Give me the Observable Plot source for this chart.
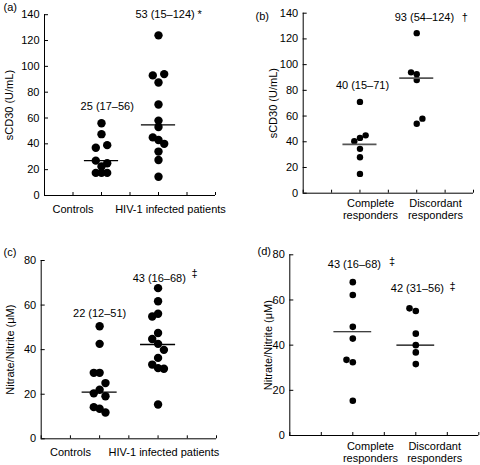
<!DOCTYPE html>
<html><head><meta charset="utf-8">
<script src="https://cdn.jsdelivr.net/npm/d3@7"></script>
<script src="https://cdn.jsdelivr.net/npm/@observablehq/plot@0.6"></script>
<style>
body{margin:0;background:#fff}
#root{position:relative;width:480px;height:465px;background:#fff;overflow:hidden}
#root svg{position:absolute}
</style>
</head><body><div id="root"></div>
<script>
// ---------- data ----------
// Panel (a): sCD30, controls vs HIV-1 infected
const groupsA = ["Controls", "HIV-1 infected patients"];
const aControls = [56, 47.5, 37, 39, 27, 25, 22.5, 17.5, 17.5, 17.5];
const aControlsCol = [0, 0, -1, 1, -1, 1, 0, -1, 0, 1];
const aHIV = [124, 93, 94, 87.5, 70.5, 58, 53, 45, 43, 40, 34, 27.5, 14.5];
const aHIVCol = [0, -1, 1, 0, 0, 0, 0, -1, 0, 1, 0, 0, 0];
const aMedians = [27, 54.7];
const aNotes = ["25 (17–56)", "53 (15–124)", "*"];

// Panel (b): sCD30, complete vs discordant responders
const groupsB = ["Complete\nresponders", "Discordant\nresponders"];
const bComplete = [71, 40.5, 43, 45, 34.5, 28, 15];
const bCompleteCol = [0, -1, 0, 1, 0, 0, 0];
const bDiscordant = [124.5, 94, 92.5, 88, 58, 54];
const bDiscordantCol = [0, -1, 0, 0, 1, 0];
const bMedians = [38, 89.5];
const bNotes = ["40 (15–71)", "93 (54–124)", "†"];

// Panel (c): Nitrate/Nitrite, controls vs HIV-1 infected
const groupsC = ["Controls", "HIV-1 infected patients"];
const cControls = [50.5, 42.6, 29.6, 29.6, 25, 20.4, 22, 19.1, 14.2, 13.5, 11.8];
const cControlsCol = [0, 0, -1, 0, 1, -1, 0, 1, -1, 0, 1];
const cHIV = [67.6, 61.7, 54.9, 56.1, 47.5, 44.8, 42.6, 39.9, 36.3, 33.3, 31.7, 31.4, 15.4];
const cHIVCol = [0, 0, -1, 0, 0, -1, 0, 1, 0, -1, 0, 1, 0];
const cMedians = [20.9, 42.3];
const cNotes = ["22 (12–51)", "43 (16–68)", "‡"];

// Panel (d): Nitrate/Nitrite, complete vs discordant responders
const groupsD = ["Complete\nresponders", "Discordant\nresponders"];
const dComplete = [67.9, 62.2, 48.1, 42.9, 33.5, 32.4, 15.4];
const dCompleteCol = [0, 0, 0, 0, -1, 0, 0];
const dDiscordant = [56.3, 55.1, 45.1, 40, 36.8, 31.6];
const dDiscordantCol = [-1, 0, 0, 0, 0, 0];
const dMedians = [45.9, 40];
const dNotes = ["43 (16–68)", "‡", "42 (31–56)", "‡"];

const ticksA = [0, 20, 40, 60, 80, 100, 120, 140];
const ticksC = [0, 20, 40, 60, 80];
const FONT = "'Liberation Sans', Arial, Helvetica, sans-serif";

function panel(cfg) {
  const rows = cfg.groups.flatMap((g, i) =>
    cfg.values[i].map((v, j) => ({group: g, pos: cfg.groupPos[i], col: cfg.cols[i][j], value: v})));
  const med = cfg.groups.map((g, i) => ({pos: cfg.groupPos[i], value: cfg.medians[i]}));
  const svg = Plot.plot({
    width: cfg.width, height: cfg.height,
    marginLeft: cfg.ml, marginRight: cfg.mr, marginTop: cfg.mt, marginBottom: cfg.mb,
    style: {fontFamily: FONT, fontSize: "11px", overflow: "visible", background: "transparent", color: "#000"},
    x: {domain: [0, 6]},
    y: {domain: cfg.yDomain},
    marks: [
      Plot.axisY({ticks: cfg.yTicks, tickSize: -4, tickPadding: 9, label: null, fontSize: 11}),
      Plot.axisX({ticks: [0, 1, 2, 3, 4, 5, 6], tickSize: -3, tickFormat: () => "", label: null}),
      Plot.ruleX([0], {stroke: "#000", strokeWidth: 1}),
      Plot.ruleY([0], {stroke: "#000", strokeWidth: 1}),
      Plot.text([cfg.yLabel], {frameAnchor: "left", textAnchor: "middle", lineAnchor: "middle", rotate: -90,
        dx: cfg.yLabelDx, fontSize: 11, fill: "#000"}),
      Plot.text([cfg.letter], {frameAnchor: "top-left", textAnchor: "start", lineAnchor: "middle",
        dx: cfg.letterDx, dy: cfg.letterDy, fontSize: 11, fill: "#000"}),
      Plot.text(cfg.groups, {x: cfg.labelX, text: d => d, frameAnchor: "bottom", dy: cfg.labelDy,
        textAnchor: "middle", lineAnchor: "middle", lineHeight: cfg.lineHeight, fontSize: 11, fill: "#000"}),
      Plot.dot(rows, {x: d => d.pos + d.col * 0.2, y: "value", r: cfg.r, fill: "#000", stroke: "none"}),
      Plot.ruleY(med, {x1: d => d.pos - 0.6, x2: d => d.pos + 0.6, y: "value", stroke: cfg.medStroke, strokeWidth: cfg.medWidth}),
      Plot.text(cfg.notes, {x: cfg.noteX, y: cfg.noteY, text: d => d, lineAnchor: "middle", fontSize: 11, fill: "#000"})
    ]
  });
  svg.style.left = cfg.left + "px";
  svg.style.top = cfg.top + "px";
  document.getElementById("root").appendChild(svg);
}

panel({
  left: 0, top: 0, width: 240, height: 235, ml: 44, mr: 25, mt: 14.2, mb: 40,
  yDomain: [0, 140], yTicks: ticksA, yLabel: "sCD30 (U/mL)", yLabelDx: -34.7,
  letter: "(a)", letterDx: -41, letterDy: -7,
  groups: groupsA, groupPos: [2, 4], values: [aControls, aHIV], cols: [aControlsCol, aHIVCol],
  medians: aMedians, r: 4.2, medStroke: "#000", medWidth: 1.3,
  labelX: [1, 4.42], labelDy: 13.3, lineHeight: 1.05,
  notes: aNotes, noteX: [2.2, 4.23, 5.44], noteY: [69.2, 140, 140.5]
});
panel({
  left: 240, top: 0, width: 240, height: 235, ml: 62.7, mr: 7, mt: 12.7, mb: 42.3,
  yDomain: [0, 140], yTicks: ticksA, yLabel: "sCD30 (U/mL)", yLabelDx: -29.7,
  letter: "(b)", letterDx: -47.7, letterDy: 3.6,
  groups: groupsB, groupPos: [2, 4], values: [bComplete, bDiscordant], cols: [bCompleteCol, bDiscordantCol],
  medians: bMedians, r: 3.2, medStroke: "#555", medWidth: 1.6,
  labelX: [2.37, 4.66], labelDy: 15.6, lineHeight: 1.09,
  notes: bNotes, noteX: [2.09, 4.27, 5.69], noteY: [83.8, 137, 136.7]
});
panel({
  left: 0, top: 235, width: 240, height: 230, ml: 40.7, mr: 24, mt: 25, mb: 26.7,
  yDomain: [0, 80], yTicks: ticksC, yLabel: "Nitrate/Nitrite (μM)", yLabelDx: -31.2,
  letter: "(c)", letterDx: -37.7, letterDy: -8.3,
  groups: groupsC, groupPos: [2, 4], values: [cControls, cHIV], cols: [cControlsCol, cHIVCol],
  medians: cMedians, r: 4.2, medStroke: "#000", medWidth: 1.3,
  labelX: [1, 4.2], labelDy: 13.4, lineHeight: 1.05,
  notes: cNotes, noteX: [2.0, 4.04, 5.25], noteY: [56.2, 72, 74.3]
});
panel({
  left: 240, top: 235, width: 240, height: 230, ml: 49.3, mr: 1.7, mt: 19.3, mb: 30,
  yDomain: [0, 80], yTicks: ticksC, yLabel: "Nitrate/Nitrite (μM)", yLabelDx: -21.5,
  letter: "(d)", letterDx: -32.3, letterDy: -3.6,
  groups: groupsD, groupPos: [2, 4], values: [dComplete, dDiscordant], cols: [dCompleteCol, dDiscordantCol],
  medians: dMedians, r: 3.3, medStroke: "#000", medWidth: 1.1,
  labelX: [2.56, 4.6], labelDy: 17, lineHeight: 1.04,
  notes: dNotes, noteX: [2.05, 3.25, 4.05, 5.17], noteY: [75.6, 77, 65, 66.2]
});
</script>
</body></html>
